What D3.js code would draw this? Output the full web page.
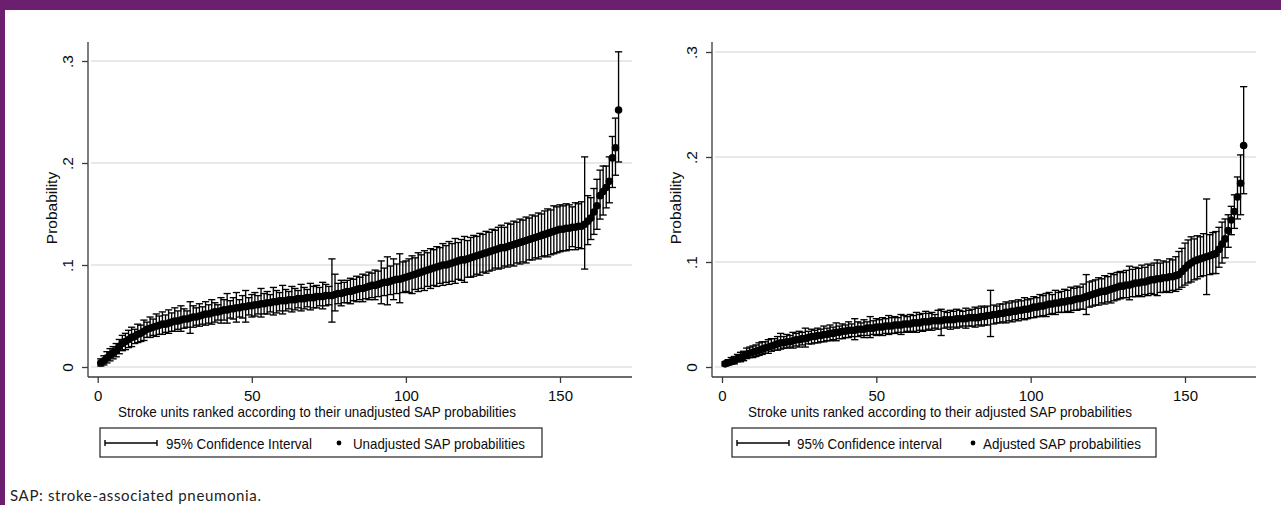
<!DOCTYPE html>
<html>
<head>
<meta charset="utf-8">
<script src="https://cdn.jsdelivr.net/npm/d3@7"></script>
<style>
body { margin: 0; background: #fff; }
svg text { font-family: "Liberation Sans", Arial, sans-serif; fill: #0c0c0c; }
</style>
</head>
<body>
<div id="chart"></div>
<script>
var xTicks = [0, 50, 100, 150];
var yTicks = [0, .1, .2, .3];

// unadjusted SAP probabilities, stroke units ranked 1..169
var unadjEst = [
 .004,.006,.009,.012,.014,.016,.020,.023,.025,.027,
 .029,.030,.032,.033,.035,.037,.038,.039,.040,.041,
 .042,.042,.043,.044,.045,.045,.046,.047,.047,.048,
 .049,.049,.050,.051,.052,.052,.053,.054,.054,.055,
 .056,.056,.057,.057,.058,.058,.059,.059,.060,.060,
 .061,.061,.062,.062,.063,.063,.064,.064,.065,.065,
 .065,.066,.066,.066,.067,.067,.067,.068,.068,.068,
 .069,.069,.069,.070,.070,.070,.071,.072,.072,.073,
 .074,.074,.075,.076,.077,.077,.078,.079,.080,.080,
 .081,.082,.083,.083,.084,.085,.086,.086,.087,.088,
 .089,.090,.091,.092,.093,.094,.095,.096,.097,.098,
 .099,.100,.100,.101,.102,.103,.104,.105,.105,.106,
 .107,.108,.109,.110,.111,.112,.113,.114,.115,.116,
 .117,.117,.118,.119,.120,.121,.122,.123,.124,.125,
 .126,.127,.128,.129,.130,.131,.132,.133,.134,.135,
 .135,.136,.136,.137,.137,.138,.138,.140,.143,.146,
 .152,.158,.168,.172,.176,.182,.205,.215,.252];
var unadjLow = [
 .001,.002,.004,.006,.008,.010,.013,.016,.017,.019,
 .020,.023,.024,.025,.026,.029,.029,.031,.030,.032,
 .032,.034,.033,.035,.035,.037,.035,.038,.039,.033,
 .039,.041,.040,.042,.041,.043,.042,.044,.046,.043,
 .046,.043,.048,.047,.044,.049,.048,.044,.051,.049,
 .050,.052,.049,.052,.052,.054,.051,.053,.055,.052,
 .055,.057,.054,.056,.058,.055,.057,.059,.056,.058,
 .058,.060,.057,.060,.061,.044,.055,.062,.060,.063,
 .063,.062,.065,.064,.066,.064,.067,.066,.068,.066,
 .069,.062,.070,.061,.071,.066,.072,.063,.073,.074,
 .073,.072,.076,.074,.077,.075,.079,.077,.080,.079,
 .082,.080,.083,.081,.084,.082,.086,.085,.083,.088,
 .088,.089,.091,.090,.093,.092,.094,.095,.097,.096,
 .097,.099,.098,.100,.099,.102,.101,.103,.102,.105,
 .105,.107,.106,.108,.109,.108,.110,.111,.112,.113,
 .114,.114,.115,.118,.115,.117,.116,.096,.120,.125,
 .130,.135,.145,.149,.156,.161,.176,.188,.201];
var unadjHigh = [
 .008,.011,.015,.018,.020,.023,.027,.031,.033,.036,
 .039,.037,.042,.041,.046,.044,.049,.047,.052,.050,
 .054,.051,.056,.053,.058,.055,.060,.057,.055,.064,
 .060,.058,.062,.059,.064,.061,.066,.063,.061,.068,
 .066,.072,.065,.068,.073,.066,.070,.075,.068,.071,
 .073,.070,.077,.072,.074,.071,.078,.075,.073,.080,
 .076,.074,.079,.077,.075,.081,.078,.076,.082,.079,
 .080,.078,.083,.081,.079,.106,.091,.082,.085,.083,
 .085,.087,.086,.089,.088,.091,.090,.093,.092,.095,
 .094,.104,.097,.108,.099,.106,.101,.111,.103,.104,
 .106,.109,.107,.112,.110,.114,.112,.116,.115,.118,
 .117,.121,.119,.123,.121,.126,.122,.125,.128,.124,
 .127,.129,.128,.131,.130,.133,.132,.135,.134,.137,
 .139,.137,.141,.140,.143,.142,.145,.144,.147,.146,
 .149,.148,.151,.150,.153,.155,.154,.158,.157,.159,
 .158,.160,.159,.157,.161,.160,.162,.206,.168,.166,
 .175,.184,.193,.197,.197,.206,.226,.244,.309];

// adjusted SAP probabilities
var adjEst = [
 .003,.004,.005,.006,.008,.009,.010,.012,.013,.014,
 .015,.016,.017,.018,.019,.020,.021,.022,.023,.023,
 .024,.024,.025,.026,.026,.027,.027,.028,.029,.029,
 .030,.030,.031,.031,.032,.032,.033,.033,.034,.034,
 .035,.035,.035,.036,.036,.036,.037,.037,.037,.038,
 .038,.038,.039,.039,.039,.040,.040,.040,.041,.041,
 .041,.042,.042,.042,.043,.043,.043,.044,.044,.044,
 .044,.045,.045,.045,.045,.046,.046,.046,.046,.047,
 .047,.047,.047,.048,.048,.049,.049,.050,.050,.051,
 .051,.052,.052,.053,.053,.054,.054,.055,.055,.056,
 .057,.057,.058,.058,.059,.060,.060,.061,.061,.062,
 .062,.063,.063,.064,.065,.065,.066,.067,.068,.069,
 .070,.071,.072,.072,.073,.074,.075,.076,.077,.077,
 .078,.078,.079,.080,.080,.081,.081,.082,.083,.083,
 .084,.084,.085,.085,.086,.086,.087,.088,.091,.094,
 .097,.099,.101,.102,.103,.104,.105,.106,.107,.108,
 .112,.117,.122,.130,.140,.148,.162,.175,.211];
var adjLow = [
 .001,.002,.003,.003,.005,.005,.006,.008,.009,.009,
 .010,.011,.012,.013,.013,.015,.016,.016,.017,.018,
 .018,.019,.018,.020,.019,.021,.019,.022,.022,.023,
 .023,.024,.024,.025,.025,.026,.025,.027,.027,.028,
 .028,.029,.026,.029,.030,.028,.030,.028,.031,.030,
 .031,.030,.032,.031,.032,.032,.033,.031,.033,.034,
 .033,.034,.033,.035,.034,.035,.036,.035,.037,.036,
 .030,.037,.038,.036,.038,.037,.038,.039,.037,.039,
 .039,.038,.040,.039,.040,.040,.029,.041,.042,.042,
 .043,.042,.044,.043,.045,.044,.046,.045,.046,.047,
 .047,.048,.048,.049,.048,.050,.051,.050,.052,.052,
 .052,.053,.052,.054,.054,.055,.055,.050,.057,.058,
 .059,.059,.061,.060,.062,.061,.063,.064,.065,.066,
 .066,.064,.067,.067,.068,.067,.069,.068,.070,.069,
 .068,.071,.071,.072,.071,.073,.072,.074,.076,.078,
 .080,.081,.083,.084,.086,.087,.069,.088,.089,.089,
 .095,.099,.104,.114,.126,.132,.141,.145,.165];
var adjHigh = [
 .005,.007,.009,.010,.012,.014,.015,.018,.019,.020,
 .021,.023,.024,.024,.026,.027,.027,.029,.032,.029,
 .031,.030,.033,.032,.034,.033,.037,.034,.036,.035,
 .037,.036,.039,.037,.040,.038,.042,.039,.041,.040,
 .043,.041,.046,.043,.042,.045,.043,.048,.044,.046,
 .045,.047,.046,.049,.047,.048,.047,.050,.049,.048,
 .050,.049,.052,.050,.051,.053,.051,.052,.050,.054,
 .055,.053,.052,.054,.053,.055,.054,.053,.056,.054,
 .055,.057,.056,.058,.057,.058,.073,.059,.058,.060,
 .060,.062,.061,.063,.062,.064,.063,.066,.064,.065,
 .067,.066,.069,.068,.070,.071,.069,.073,.071,.072,
 .074,.073,.076,.075,.077,.076,.079,.088,.081,.082,
 .083,.085,.084,.087,.086,.089,.088,.090,.091,.090,
 .092,.096,.093,.095,.094,.097,.095,.098,.097,.099,
 .102,.099,.101,.100,.103,.102,.105,.110,.113,.118,
 .121,.124,.122,.125,.124,.127,.160,.126,.128,.129,
 .133,.138,.141,.145,.153,.164,.181,.202,.267];

var svg = d3.select("#chart")
    .append("svg")
    .attr("width", 1281)
    .attr("height", 505);

svg.append("rect").attr("width", 1281).attr("height", 505).attr("fill", "#fff");

// purple journal frame
svg.append("rect").attr("x", 0).attr("y", 0).attr("width", 1281).attr("height", 10).attr("fill", "#6b1f6e");
svg.append("rect").attr("x", 0).attr("y", 0).attr("width", 5).attr("height", 505).attr("fill", "#6b1f6e");

function drawPanel(p, est, lo, hi) {
    var ranks = d3.range(1, est.length + 1);

    var x = d3.scaleLinear()
        .domain([0, 150])
        .range([p.x0, p.x150]);

    var y = d3.scaleLinear()
        .domain([0, .3])
        .range([367, p.y3]);

    // gridlines
    svg.append("g")
        .selectAll("line")
        .data(yTicks)
        .enter()
        .append("line")
        .attr("x1", p.left + 3)
        .attr("x2", p.right)
        .attr("y1", function(d) { return y(d) })
        .attr("y2", function(d) { return y(d) })
        .attr("stroke", "#e0e0e0")
        .attr("stroke-width", 1.3);

    // axes
    var xAxis = svg.append("g")
        .attr("transform", "translate(0," + p.bottom + ")")
        .call(d3.axisBottom(x).tickValues(xTicks).tickSize(6).tickSizeOuter(0));
    xAxis.select(".domain").attr("d", "M" + p.left + ",0H" + p.right);
    xAxis.selectAll("text").attr("y", 24).attr("dy", 0).style("font-size", "15px");

    var yAxis = svg.append("g")
        .attr("transform", "translate(" + p.left + ",0)")
        .call(d3.axisLeft(y).tickValues(yTicks).tickSize(6).tickSizeOuter(0)
            .tickFormat(function(d) { return d === 0 ? "0" : d3.format(".1f")(d).replace("0.", ".") }));
    yAxis.select(".domain").attr("d", "M0," + p.top + "V" + p.bottom);
    yAxis.selectAll(".tick text")
        .attr("x", 0).attr("dy", 0)
        .attr("text-anchor", "middle")
        .attr("transform", "translate(-15,0) rotate(-90)")
        .style("font-size", "15.5px");

    svg.selectAll(".domain, .tick line").attr("stroke", "#3a3a3a").attr("stroke-width", 1.3);

    // confidence intervals (capped)
    var ci = svg.append("g").attr("stroke", "#000").attr("stroke-width", 1.35);
    ci.selectAll(".bar")
        .data(ranks)
        .enter()
        .append("line")
        .attr("x1", function(r) { return x(r) })
        .attr("x2", function(r) { return x(r) })
        .attr("y1", function(r) { return y(lo[r - 1]) })
        .attr("y2", function(r) { return y(hi[r - 1]) });
    ci.selectAll(".capHi")
        .data(ranks)
        .enter()
        .append("line")
        .attr("x1", function(r) { return x(r) - 3.6 })
        .attr("x2", function(r) { return x(r) + 3.6 })
        .attr("y1", function(r) { return y(hi[r - 1]) })
        .attr("y2", function(r) { return y(hi[r - 1]) });
    ci.selectAll(".capLo")
        .data(ranks)
        .enter()
        .append("line")
        .attr("x1", function(r) { return x(r) - 3.6 })
        .attr("x2", function(r) { return x(r) + 3.6 })
        .attr("y1", function(r) { return y(lo[r - 1]) })
        .attr("y2", function(r) { return y(lo[r - 1]) });

    // point estimates
    svg.append("g")
        .selectAll("circle")
        .data(ranks)
        .enter()
        .append("circle")
        .attr("cx", function(r) { return x(r) })
        .attr("cy", function(r) { return y(est[r - 1]) })
        .attr("r", 3.8)
        .attr("fill", "#000");

    // titles
    svg.append("text")
        .attr("transform", "translate(" + p.yTitleX + ",208) rotate(-90)")
        .attr("text-anchor", "middle")
        .style("font-size", "15.5px")
        .text("Probability");

    svg.append("text")
        .attr("x", p.xTitleX)
        .attr("y", 417)
        .attr("text-anchor", "middle")
        .attr("textLength", p.xTitleW)
        .attr("lengthAdjust", "spacingAndGlyphs")
        .style("font-size", "15px")
        .text(p.xTitle);

    // legend
    var lg = svg.append("g");
    lg.append("rect")
        .attr("x", p.lgX).attr("y", 428)
        .attr("width", p.lgW).attr("height", 29)
        .attr("fill", "#fff").attr("stroke", "#333").attr("stroke-width", 1.3);
    lg.append("line").attr("x1", p.lgX + 5).attr("x2", p.lgX + 57).attr("y1", 443).attr("y2", 443)
        .attr("stroke", "#000").attr("stroke-width", 1.4);
    lg.append("line").attr("x1", p.lgX + 5).attr("x2", p.lgX + 5).attr("y1", 440).attr("y2", 446)
        .attr("stroke", "#000").attr("stroke-width", 1.4);
    lg.append("line").attr("x1", p.lgX + 57).attr("x2", p.lgX + 57).attr("y1", 440).attr("y2", 446)
        .attr("stroke", "#000").attr("stroke-width", 1.4);
    lg.append("text")
        .attr("x", p.lgT1).attr("y", 448.5)
        .attr("textLength", p.lgT1W).attr("lengthAdjust", "spacingAndGlyphs")
        .style("font-size", "15px")
        .text(p.lgLabel1);
    lg.append("circle").attr("cx", p.lgDot).attr("cy", 443).attr("r", 2.4).attr("fill", "#000");
    lg.append("text")
        .attr("x", p.lgT2).attr("y", 448.5)
        .attr("textLength", p.lgT2W).attr("lengthAdjust", "spacingAndGlyphs")
        .style("font-size", "15px")
        .text(p.lgLabel2);
}

drawPanel({left: 88, right: 632, top: 42, bottom: 377, x0: 97.7, x150: 560, y3: 61,
    yTitleX: 57, xTitleX: 317, xTitleW: 398,
    xTitle: "Stroke units ranked according to their unadjusted SAP probabilities",
    lgX: 100, lgW: 442, lgT1: 166, lgT1W: 146, lgDot: 339, lgT2: 353, lgT2W: 172,
    lgLabel1: "95% Confidence Interval", lgLabel2: "Unadjusted SAP probabilities"},
    unadjEst, unadjLow, unadjHigh);

drawPanel({left: 712, right: 1256, top: 42, bottom: 377, x0: 722, x150: 1185, y3: 52,
    yTitleX: 681, xTitleX: 940, xTitleW: 384,
    xTitle: "Stroke units ranked according to their adjusted SAP probabilities",
    lgX: 732, lgW: 424, lgT1: 797, lgT1W: 145, lgDot: 973, lgT2: 983, lgT2W: 158,
    lgLabel1: "95% Confidence interval", lgLabel2: "Adjusted SAP probabilities"},
    adjEst, adjLow, adjHigh);

// footnote
svg.append("text")
    .attr("x", 10)
    .attr("y", 501)
    .attr("textLength", 251)
    .attr("lengthAdjust", "spacing")
    .style("font-family", "Lato, 'Open Sans', sans-serif")
    .style("font-size", "15px")
    .style("fill", "#222")
    .text("SAP:  stroke-associated pneumonia.");
</script>
</body>
</html>
